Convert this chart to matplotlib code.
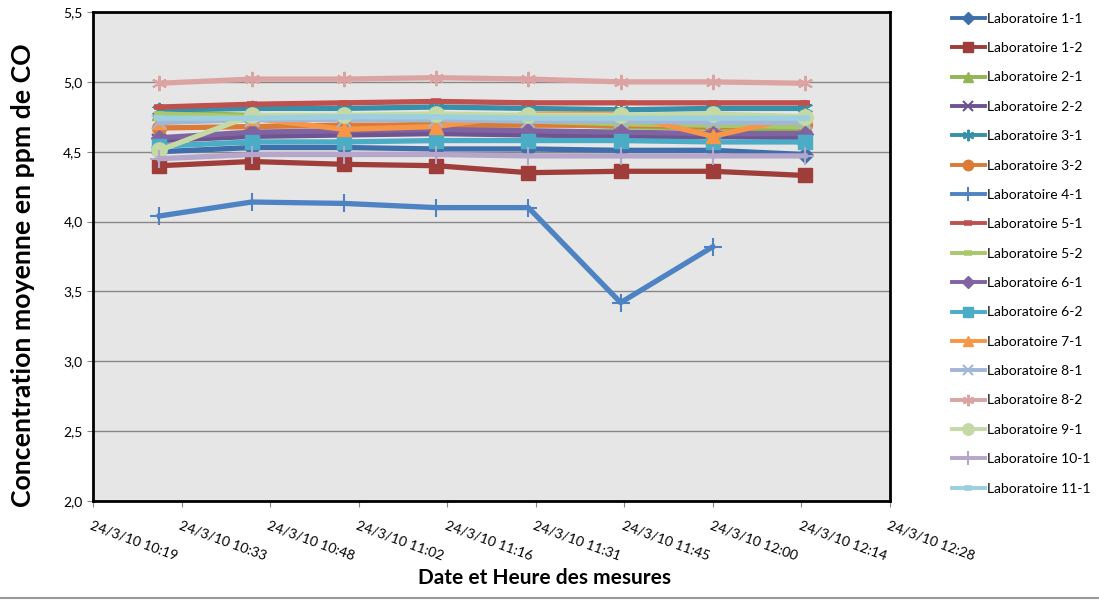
import numpy as np
import pandas as pd
import matplotlib
matplotlib.use("Agg")
import matplotlib.pyplot as plt
import matplotlib.dates as mdates
from matplotlib.ticker import FuncFormatter
from matplotlib.lines import Line2D

plt.rcParams['font.family'] = ['Lato', 'DejaVu Sans']

# measurement times (24/3/2010)
times = ["10:30", "10:45", "11:00", "11:15", "11:30", "11:45", "12:00", "12:15"]

labels = ["Laboratoire 1-1", "Laboratoire 1-2", "Laboratoire 2-1", "Laboratoire 2-2",
          "Laboratoire 3-1", "Laboratoire 3-2", "Laboratoire 4-1", "Laboratoire 5-1",
          "Laboratoire 5-2", "Laboratoire 6-1", "Laboratoire 6-2", "Laboratoire 7-1",
          "Laboratoire 8-1", "Laboratoire 8-2", "Laboratoire 9-1", "Laboratoire 10-1",
          "Laboratoire 11-1"]

lab_1_1 = [4.50, 4.53, 4.53, 4.52, 4.52, 4.51, 4.51, 4.48]
lab_1_2 = [4.40, 4.43, 4.41, 4.40, 4.35, 4.36, 4.36, 4.33]
lab_2_1 = [4.78, 4.76, 4.74, 4.72, 4.70, 4.68, 4.67, 4.66]
lab_2_2 = [4.58, 4.61, 4.62, 4.63, 4.62, 4.61, 4.61, 4.60]
lab_3_1 = [4.80, 4.81, 4.81, 4.82, 4.81, 4.80, 4.81, 4.81]
lab_3_2 = [4.67, 4.68, 4.69, 4.69, 4.69, 4.69, 4.68, 4.69]
lab_4_1 = [4.04, 4.14, 4.13, 4.10, 4.10, 3.42, 3.82, np.nan]
lab_5_1 = [4.82, 4.84, 4.85, 4.86, 4.85, 4.85, 4.85, 4.85]
lab_5_2 = [4.77, 4.75, 4.74, 4.73, 4.72, 4.70, 4.69, 4.68]
lab_6_1 = [4.60, 4.64, 4.65, 4.66, 4.65, 4.64, 4.63, 4.63]
lab_6_2 = [4.54, 4.57, 4.57, 4.58, 4.58, 4.58, 4.57, 4.57]
lab_7_1 = [4.71, 4.74, 4.66, 4.68, 4.77, 4.77, 4.61, 4.76]
lab_8_1 = [4.71, 4.73, 4.73, 4.73, 4.72, 4.72, 4.71, 4.71]
lab_8_2 = [4.99, 5.02, 5.02, 5.03, 5.02, 5.00, 5.00, 4.99]
lab_9_1 = [4.51, 4.76, 4.76, 4.77, 4.76, 4.76, 4.77, 4.75]
lab_10_1 = [4.45, 4.48, 4.48, 4.48, 4.47, 4.47, 4.47, 4.47]
lab_11_1 = [4.74, 4.74, 4.75, 4.75, 4.74, 4.74, 4.74, 4.74]

series = [lab_1_1, lab_1_2, lab_2_1, lab_2_2, lab_3_1, lab_3_2, lab_4_1, lab_5_1,
          lab_5_2, lab_6_1, lab_6_2, lab_7_1, lab_8_1, lab_8_2, lab_9_1, lab_10_1, lab_11_1]

colors = ['#3F6FAA', '#9E3D3A', '#93B552', '#6E5490', '#3790AA', '#DB7B35', '#4D82C3',
          '#C0504D', '#A9C86A', '#8064A2', '#4BACC6', '#F79646', '#A2B6D8', '#DBA3A1',
          '#C5D9A4', '#B5A6CA', '#9CD0DF']
asterisk = (6, 2, 0)
markers = ['D', 's', '^', 'x', asterisk, 'o', '+', '_', '_', 'D', 's', '^', 'x', asterisk,
           'o', '+', '_']
msizes = [8, 10, 10, 10, 11, 10, 13, 7, 7, 8, 10, 10, 10, 11, 11, 13, 7]

x = pd.to_datetime(["2010-03-24 " + t for t in times])

fig = plt.figure(figsize=(10.99, 6.01), dpi=100)
ax = fig.add_axes([0.0846, 0.1664, 0.7252, 0.8136])
ax.set_facecolor('#E6E6E6')

for vals, lab, c, m, ms in zip(series, labels, colors, markers, msizes):
    mew = 1.5 if m in ('x', '+', asterisk) else (4 if m == '_' else 1)
    ax.plot(x, vals, color=c, lw=3.8, marker=m, markersize=ms, markeredgewidth=mew,
            markerfacecolor=c, markeredgecolor=c, label=lab)

start = pd.Timestamp("2010-03-24 10:19:12")
ticks = pd.date_range(start, periods=10, freq="864s")
ax.set_xlim(mdates.date2num(ticks[0]), mdates.date2num(ticks[-1]))
ax.set_xticks(mdates.date2num(ticks))

def fmt_date(v, pos):
    d = mdates.num2date(v)
    return f"{d.day}/{d.month}/{d.strftime('%y')} {d.strftime('%H:%M')}"

ax.xaxis.set_major_formatter(FuncFormatter(fmt_date))
for t in ax.get_xticklabels():
    t.set_rotation(-20)
    t.set_ha('left')
    t.set_va('top')
    t.set_rotation_mode('anchor')

ax.set_ylim(2.0, 5.5)
ax.set_yticks(np.arange(2.0, 5.51, 0.5))
ax.yaxis.set_major_formatter(FuncFormatter(lambda v, p: f"{v:.1f}".replace('.', ',')))
ax.grid(axis='y', color='#878787', lw=1)
ax.set_axisbelow(True)
ax.tick_params(axis='both', labelsize=10, length=4, color='#878787', direction='out')
ax.tick_params(axis='x', pad=9)
for s in ax.spines.values():
    s.set_color('black')
    s.set_linewidth(2)

fig.text(0.021, 0.542, "Concentration moyenne en ppm de CO", fontsize=19.2, fontweight='bold',
         rotation=90, ha='center', va='center')
fig.text(0.495, 0.028, "Date et Heure des mesures", fontsize=15, fontweight='bold', ha='center')

leg = ax.legend(loc='upper left', bbox_to_anchor=(0.861, 0.988), bbox_transform=fig.transFigure,
                frameon=False, fontsize=10, handlelength=2.4, labelspacing=1.25,
                handletextpad=0.15, borderaxespad=0, markerscale=0.75)
for ln in leg.get_lines():
    ln.set_linewidth(2.8)

fig.add_artist(Line2D([0, 1], [0.005, 0.005], color='#999999', lw=1.5, transform=fig.transFigure))

fig.savefig("out.png", dpi=100)
